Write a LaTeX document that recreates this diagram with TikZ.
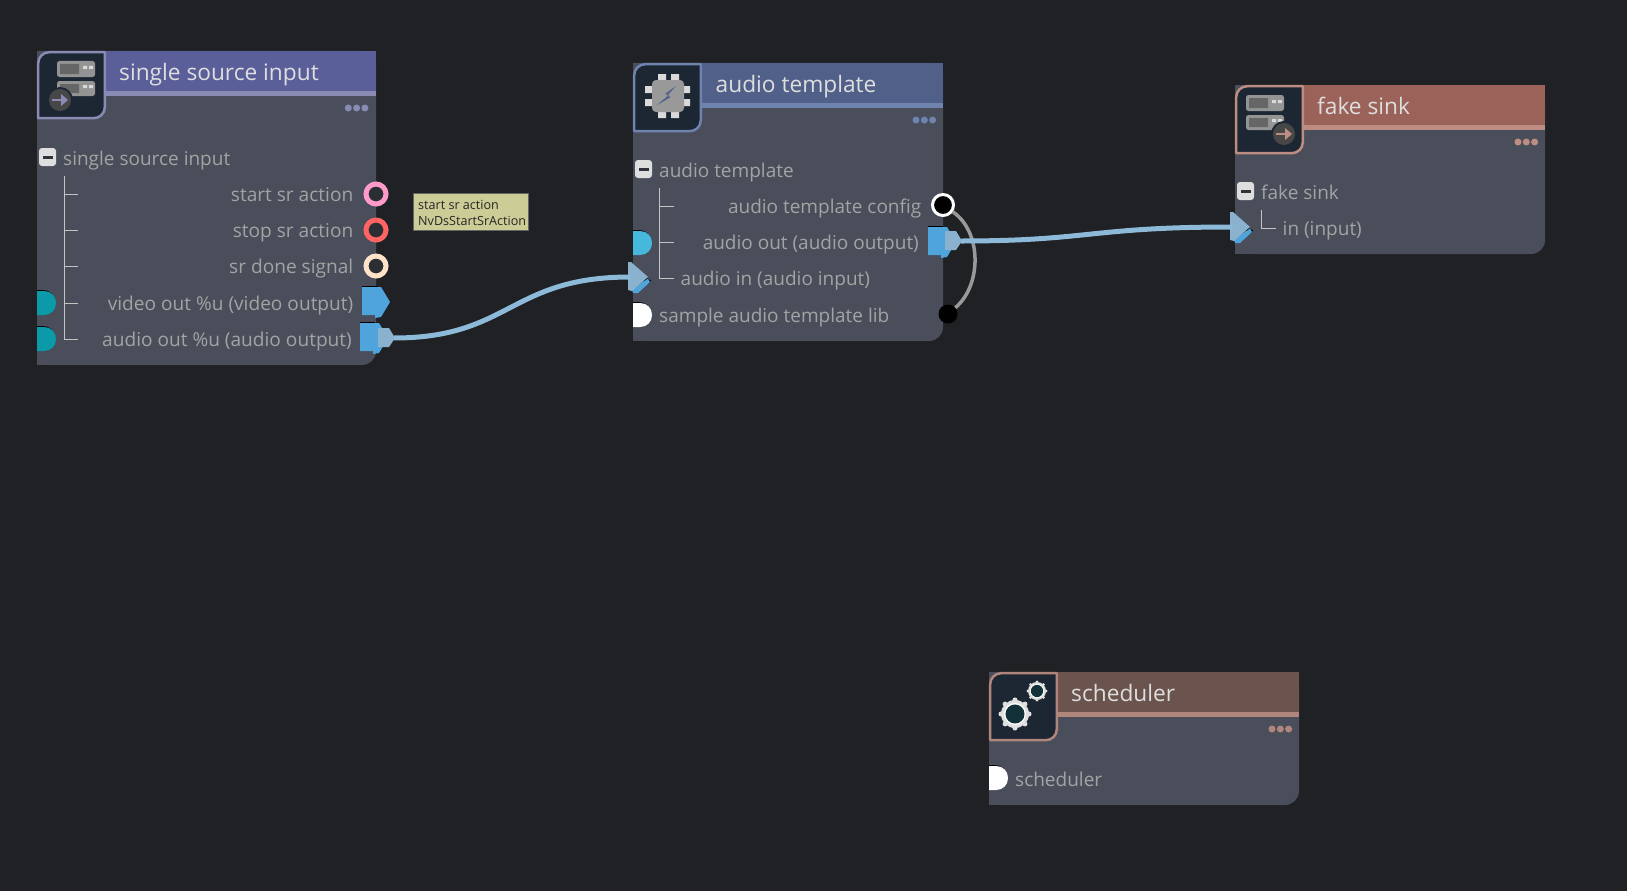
\documentclass[tikz,border=0pt]{standalone}
\usepackage{fontspec}
\setmainfont{Open Sans}
\definecolor{bg}{HTML}{1F2124}
\definecolor{bodyc}{HTML}{4A4E5B}
\definecolor{iconbg}{HTML}{1C2733}
\definecolor{hA}{HTML}{5B5F99}\definecolor{lA}{HTML}{8A8BB3}
\definecolor{hB}{HTML}{506088}\definecolor{lB}{HTML}{6E83AE}
\definecolor{hC}{HTML}{9A6259}\definecolor{lC}{HTML}{BD8D83}
\definecolor{hD}{HTML}{6B534E}\definecolor{lD}{HTML}{B0857C}
\definecolor{portblue}{HTML}{50A4DC}
\definecolor{headc}{HTML}{8AB2CE}
\definecolor{wirec}{HTML}{8DBAD8}
\definecolor{labelc}{HTML}{A3A3A3}
\definecolor{titlec}{HTML}{DEDEDE}
\definecolor{treec}{HTML}{C4C4C4}
\definecolor{HTMLpink}{HTML}{FF9ACB}
\definecolor{HTMLred}{HTML}{FF6464}
\definecolor{HTMLcream}{HTML}{FFE3C8}
\definecolor{HTMLtip}{HTML}{CCCC96}
\definecolor{teal1}{HTML}{0A9AA8}
\definecolor{cyan1}{HTML}{45B8DC}
\definecolor{HTMLgear}{HTML}{12323A}
\definecolor{ringfill}{HTML}{2B2E33}
\tikzset{
  titletext/.style={font=\fontsize{22.7}{26}\selectfont,text=titlec,inner sep=0pt,anchor=base west},
  rowl/.style={font=\fontsize{19}{22}\selectfont,text=labelc,inner sep=0pt,anchor=base west},
  rowr/.style={font=\fontsize{19.1}{22}\selectfont,text=labelc,inner sep=0pt,anchor=base east},
  rowrb/.style={font=\fontsize{19}{22}\selectfont,text=labelc,inner sep=0pt,anchor=base east},
  ring/.style={circle,draw=#1,line width=5pt,fill=ringfill,minimum size=20pt,inner sep=0pt},
  wire/.style={draw=wirec,line width=5pt},
  thinwire/.style={draw=black!40,line width=3.5pt},
  tree/.style={draw=treec,line width=1pt},
  collapse/.style={fill=titlec,draw=none,rounded corners=3pt},
}
% body: x y w h headerbottom iconright iconbottom head line
\newcommand{\nodebody}[9]{%
  \fill[bodyc,rounded corners=14pt] (#1,#2) -- (#1+#3,#2) -- (#1+#3,#2+#4) -- (#1,#2+#4) [sharp corners] -- (#1,#2) -- cycle;
  \fill[bodyc] (#1,#2) rectangle (#1+30,#2+#4);
  \fill[bodyc] (#1+#3-30,#2) rectangle (#1+#3,#2+#4-30);
  \fill[#8] (#1+60,#2) rectangle (#1+#3,#5);
  \fill[#9] (#1+60,#5) rectangle (#1+#3,#5+5);
  \draw[#9,fill=iconbg,line width=2.5pt,line join=round]
    (#6-1.2,#2+1.2) [sharp corners] -- (#6-1.2,#7-13) [rounded corners=11pt] -- (#6-1.2,#7-0.8) [sharp corners] -- (#1+1.2,#7-0.8) [rounded corners=11pt] -- (#1+1.2,#2+1.2) [sharp corners] -- cycle;
}
\newcommand{\threedots}[3]{%
  \fill[#3] (#1,#2) circle[radius=3.5pt] (#1+8.3,#2) circle[radius=3.5pt] (#1+16.6,#2) circle[radius=3.5pt];
}
\newcommand{\collapsebtn}[2]{%
  \fill[collapse] (#1,#2-9) rectangle (#1+17,#2+9);
  \fill[bg!60!bodyc] (#1+3.5,#2-1.5) rectangle (#1+13.5,#2+1.5);
}
% half-round port on the left edge
\newcommand{\dport}[4]{%
  \fill[black] (#1,#2-13) -- (#1+6,#2-13) .. controls (#1+13,#2-13) and (#1+18,#2-8) .. (#1+18,#2-1) -- (#1,#2-1) -- cycle;
  \fill[#3] (#1,#2-12) -- (#1+7,#2-12) .. controls (#1+14,#2-12) and (#1+19,#2-7) .. (#1+19,#2) .. controls (#1+19,#2+7) and (#1+14,#2+12) .. (#1+7,#2+12) -- (#1,#2+12) -- cycle;
  \coordinate (#4) at (#1,#2);
}
% output pentagon
\newcommand{\outport}[3]{%
  \fill[black] (#1,#2-16) rectangle (#1+15,#2-13);
  \fill[portblue] (#1,#2-15) -- (#1+19,#2-15) -- (#1+28,#2) -- (#1+19,#2+15) -- (#1+13,#2+16) -- (#1+13,#2+13) -- (#1,#2+13) -- cycle;
  \coordinate (#3) at (#1+14,#2);
}
\newcommand{\outhead}[3]{%
  \fill[headc] (#1,#2-10) -- (#1+11,#2-10) -- (#1+17,#2) -- (#1+11,#2+9) -- (#1,#2+9) -- cycle;
  \coordinate (#3) at (#1+16,#2);
}
\newcommand{\inhead}[3]{%
  \fill[black] (#1+18,#2+0.5) -- (#1+23,#2+3.5) -- (#1+20,#2+7) -- (#1+15,#2+3) -- cycle;
  \fill[portblue] (#1+4,#2+13) -- (#1+20,#2+1.5) -- (#1+22,#2+5) -- (#1+10,#2+16) -- (#1+5,#2+16) -- cycle;
  \fill[headc] (#1,#2-15) -- (#1+3,#2-15) -- (#1+20,#2) -- (#1+4,#2+14) -- (#1,#2+13) -- cycle;
  \coordinate (#3) at (#1+2,#2);
}
\newcommand{\servericon}[5]{%
  \begin{scope}[shift={(#1,#2)}]
    \fill[black!42,rounded corners=2.5pt] (0,0) rectangle (38,16) (0,20) rectangle (38,35);
    \fill[black!60] (3,3) rectangle (22,13) (3,23) rectangle (22,32);
    \fill[white!85!black] (26,5) rectangle (30,8) (32,5) rectangle (36,8) (26,24) rectangle (30,27) (32,24) rectangle (36,27);
    \fill[iconbg] (#3,#4) circle[radius=13pt];
    \fill[black!72] (#3,#4) circle[radius=11pt];
    \draw[#5,line width=2pt] (#3-8,#4) -- (#3+3,#4);
    \fill[#5] (#3+1,#4-6) -- (#3+8,#4) -- (#3+1,#4+6) -- cycle;
  \end{scope}
}
\newcommand{\gearicon}[3]{%
  \foreach \a in {0,45,...,315}{
    \fill[black!12] ([shift={(\a:#3)}]#1,#2) circle[radius=#3*0.18];
  }
  \fill[black!12] (#1,#2) circle[radius=#3*1.0];
  \fill[white] (#1,#2) circle[radius=#3*0.78];
  \fill[HTMLgear] (#1,#2) circle[radius=#3*0.68];
}
\begin{document}
\begin{tikzpicture}[x=1pt,y=-1pt]
\useasboundingbox (0,0) rectangle (1627,891);
\fill[bg] (0,0) rectangle (1627,891);

%% ---------- node 1
\nodebody{37}{51}{339}{314}{91}{106}{119}{hA}{lA}
\servericon{57}{61}{3}{39}{lA}
\threedots{348.3}{108}{lA}
\node[titletext] (t1) at (119,80.8) {single source input};
\collapsebtn{39}{157}
\node[rowl] (g1) at (63,165) {single source input};
\draw[tree] (64,176) -- (64,339) -- (78,339);
\draw[tree] (64,194) -- (78,194) (64,230) -- (78,230) (64,266) -- (78,266) (64,303) -- (78,303);
\node[rowr] (r1a) at (353.5,201) {start sr action};
\node[rowr] (r1b) at (353.5,237) {stop sr action};
\node[rowr] (r1c) at (353.5,273) {sr done signal};
\node[rowr] (r1d) at (353.5,310) {video out \%u (video output)};
\node[rowr] (r1e) at (352,346) {audio out \%u (audio output)};
\node[ring=HTMLpink] (p1a) at (376,194) {};
\node[ring=HTMLred] (p1b) at (376,230) {};
\node[ring=HTMLcream] (p1c) at (376,266) {};
\dport{37}{303}{teal1}{p1dl}
\dport{37}{339}{teal1}{p1el}
\outport{362}{302}{p1d}
\outport{360}{338}{p1e}

%% tooltip
\node[draw=black!60,fill=HTMLtip,line width=1pt,minimum width=115pt,minimum height=37.5pt,inner sep=0pt] (tip) at (471,212) {};
\node[font=\fontsize{12.6}{14}\selectfont,text=black!85,inner sep=0pt,anchor=base west] (tipa) at (418,209) {start sr action};
\node[font=\fontsize{12.6}{14}\selectfont,text=black!85,inner sep=0pt,anchor=base west] (tipb) at (418,225) {NvDsStartSrAction};

%% ---------- node 2
\nodebody{633}{63}{310}{278}{103}{702}{132}{hB}{lB}
\begin{scope}[shift={(668,96)}]
  \fill[black!15] (-10,-22) rectangle (-2,-16) (3,-22) rectangle (11,-16) (-10,16) rectangle (-2,22) (3,16) rectangle (11,22);
  \fill[black!15] (-23,-10) rectangle (-15,-3) (-23,3) rectangle (-15,10) (15,-10) rectangle (22,-3) (15,3) rectangle (22,10);
  \fill[black!40,rounded corners=4pt] (-16,-16) rectangle (16,16);
  \fill[hB] (8,-10) -- (-3,-2) -- (1,-1) -- (-11,9) -- (3,1) -- (-1,0) -- cycle;
\end{scope}
\threedots{916}{120}{lB}
\node[titletext] (t2) at (715.5,92.8) {audio template};
\collapsebtn{635}{169}
\node[rowl] (g2) at (659,177) {audio template};
\draw[tree] (659,188) -- (659,278) -- (674,278);
\draw[tree] (659,206) -- (674,206) (659,242) -- (674,242);
\node[rowrb] (r2a) at (921.5,213) {audio template config};
\node[rowrb] (r2b) at (919,249) {audio out (audio output)};
\node[rowl] (r2c) at (680.5,285) {audio in (audio input)};
\node[rowl] (r2d) at (659,322) {sample audio template lib};
\dport{633}{243}{cyan1}{p2bl}
\dport{633}{315}{white}{p2dl}
\outport{928}{242}{p2b}
\inhead{628}{277}{p2c}

%% ---------- node 3
\nodebody{1235}{85}{310}{169}{125}{1304}{154}{hC}{lC}
\servericon{1246}{95}{38}{39}{lC}
\threedots{1518}{142}{lC}
\node[titletext] (t3) at (1317,114.3) {fake sink};
\collapsebtn{1237}{191}
\node[rowl] (g3) at (1261,199) {fake sink};
\draw[tree] (1261,210) -- (1261,228) -- (1276,228);
\node[rowl] (r3a) at (1282.5,235) {in (input)};

%% ---------- node 4
\nodebody{989}{672}{310}{133}{712}{1058}{741}{hD}{lD}
\gearicon{1015}{714}{14}
\gearicon{1037}{691}{9}
\threedots{1272}{729}{lD}
\node[titletext] (t4) at (1071,701.5) {scheduler};
\dport{989}{778}{white}{p4l}
\node[rowl] (r4a) at (1015,786.5) {scheduler};

%% ---------- connectors
\node[circle,fill=black,draw=white,line width=3pt,minimum size=21pt,inner sep=0pt] (p2a) at (943,205) {};
\node[circle,fill=black,minimum size=19pt,inner sep=0pt] (p2d) at (948,314) {};
\draw[thinwire] (p2a) .. controls (982,232) and (982,285) .. (p2d);
\outhead{378}{338}{c1s}
\outhead{945}{241}{c2s}
\inhead{1230}{227}{c2e}
\draw[wire] (c1s) .. controls (510,338) and (510,277) .. (p2c);
\draw[wire] (c2s) .. controls (1090,241) and (1090,227) .. (c2e);
\end{tikzpicture}
\end{document}
